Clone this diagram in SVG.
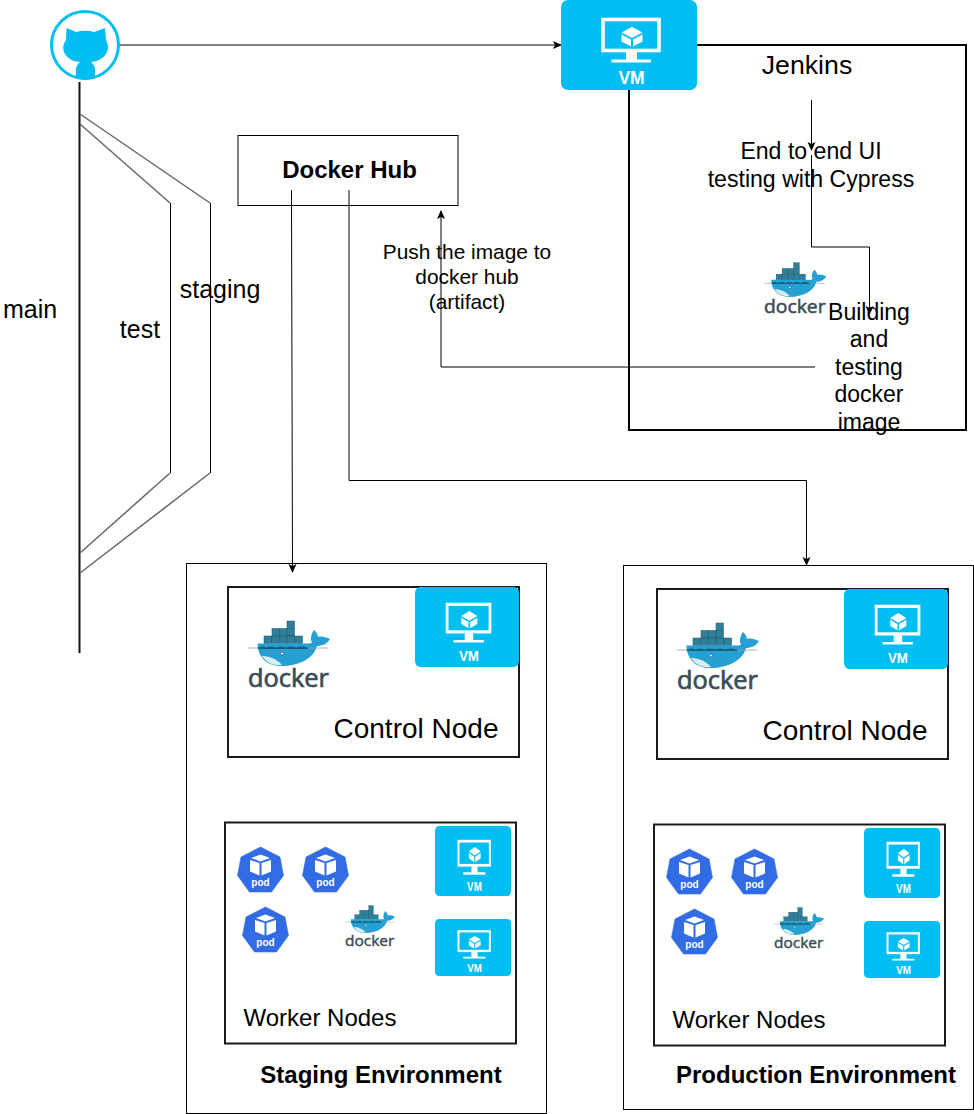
<svg xmlns="http://www.w3.org/2000/svg" width="974" height="1114" viewBox="0 0 974 1114">
<style>
text{font-family:"Liberation Sans",Arial,sans-serif;fill:#000;text-anchor:middle}
.b{font-weight:bold}
.box{fill:#fff;stroke:#000;stroke-width:1}
.inner{fill:#fff;stroke:#1a1a1a;stroke-width:2}
.c{fill:none;stroke:#000;stroke-width:1}
.g{fill:none;stroke:#666;stroke-width:1.5}
.k{fill:none;stroke:#000;stroke-width:2}
</style>
<defs>
<marker id="arrow" viewBox="0 0 9 9" refX="8" refY="4.500" markerWidth="9" markerHeight="9" markerUnits="userSpaceOnUse" orient="auto"><path d="M0,0.500L9,4.500L0,8.500L2,4.500Z" fill="#000"/></marker>
<g id="vm">
<rect width="136" height="90" rx="7" fill="#00bef2"/>
<rect x="42" y="19.500" width="56" height="31" fill="none" stroke="#fff" stroke-width="3.600"/>
<path d="M65,52H76V59.500H90V62.500H50.500V59.500H65Z" fill="#fff"/>
<path d="M71,27L81.500,32.500L71,38L60.500,32.500Z" fill="#fff"/>
<path d="M60.500,34.500L70,39.500V46.500L60.500,41.500ZM81.500,34.500L72,39.500V46.500L81.500,41.500Z" fill="#fff"/>
<text x="70.500" y="83.500" class="b" font-size="17.500" style="fill:#fff">VM</text>
</g>
<g id="docker">
<g fill="#2f7f98" stroke="#17576e" stroke-width=".5">
<rect x="39" y="1" width="7.500" height="7.500"/>
<rect x="24" y="8.500" width="7.500" height="7.500"/><rect x="31.500" y="8.500" width="7.500" height="7.500"/><rect x="39" y="8.500" width="7.500" height="7.500"/>
<rect x="16" y="16" width="7.700" height="7.500"/><rect x="23.700" y="16" width="7.700" height="7.500"/><rect x="31.400" y="16" width="7.700" height="7.500"/><rect x="39.100" y="16" width="7.700" height="7.500"/><rect x="46.800" y="16" width="7.700" height="7.500"/>
</g>
<path d="M9.500,23.500H58C60,23.500 62,24 64,22.500C62,19 63,14 66,10C68,12 70,14 70,17C73,16 78,17 82,19C79,24 74,26 69,26C66,38 52,46 33,46C18,46 9.500,36 9.500,23.500Z" fill="#26a0d2"/>
<path d="M9.500,27.500C14,26 16,26 18,27.500C22,26 25,26 28,27.500C32,26 35,26 38,27.500C42,26 45,26 48,27.500C52,26 55,26 60,27.500V29H10Z" fill="#17607c"/>
<path d="M14,36C20,36 28,38 34,45C24,46 18,42 14,36Z" fill="#d7ebf2"/>
<circle cx="34" cy="33.500" r="1.500" fill="#fff" stroke="#17576e" stroke-width=".7"/>
<path d="M0,28H10M60,28H80" stroke="#8aa3ad" stroke-width=".8" fill="none"/>
<text x="40.500" y="67" font-size="25" textLength="81" lengthAdjust="spacingAndGlyphs" style="font-family:'Open Sans','Liberation Sans',sans-serif;fill:#394d54;stroke:#394d54;stroke-width:.7">docker</text>
</g>
<g id="pod">
<path d="M0,-23L19.500,-13L23,5.500L11,22H-11L-23,5.500L-19.500,-13Z" fill="#326ce5" stroke="#326ce5" stroke-width=".6" stroke-linejoin="round"/>
<path d="M-9.500,-12L0,-15.500L9.500,-12L0,-8.500Z" fill="#fff"/>
<path d="M-10.500,-10L-1,-7V5.500L-10.500,1.500ZM10.500,-10L1,-7V5.500L10.500,1.500Z" fill="#fff"/>
<text y="15.500" class="b" font-size="10" style="fill:#fff">pod</text>
</g>
</defs>

<g id="connectors">
<path class="c" d="M120,45H561" marker-end="url(#arrow)"/>
<path class="k" style="stroke:#111" d="M79.500,82V653"/>
<path class="g" d="M80,114L210,203"/>
<path class="c" d="M210.500,203V473"/>
<path class="g" d="M210,473L80,573"/>
<path class="g" d="M80,124L170,203"/>
<path class="c" d="M170.500,203V473"/>
<path class="g" d="M170,473L80,553"/>
<path class="k" d="M697,45H966V430H629V90"/>
</g>

<g id="github">
<circle cx="85" cy="45" r="33.500" fill="#fff" stroke="#00bef2" stroke-width="3"/>
<path d="M66.500,28L76,32Q85,29.500 94,32L105,28L106,40Q110,48 106,54Q101,61 91,62Q95,65 95,70V78.500Q85,80.500 76,78.500V70Q76,65 80,62Q69,61 65,54Q61,47 66,40Z" fill="#00bef2"/>
</g>
<g id="jenkins-vm"><use href="#vm" x="561" y="0"/></g>
<g id="jenkins-label"><text x="807" y="74" font-size="26.700">Jenkins</text></g>
<g id="cypress"><text x="811" y="159" font-size="23.100">End to end UI</text><text x="811" y="187" font-size="23.100">testing with Cypress</text></g>
<g id="jenkins-docker"><use href="#docker" transform="translate(764,262) scale(.76)"/></g>
<g id="building"><text font-size="23" x="869" y="320">Building</text><text font-size="23" x="869" y="347">and</text><text font-size="23" x="869" y="375">testing</text><text font-size="23" x="869" y="402">docker</text><text font-size="23" x="869" y="430">image</text></g>
<g id="docker-hub"><rect class="box" x="238" y="135.500" width="220" height="70"/><text x="349.500" y="178" font-size="24" class="b">Docker Hub</text></g>
<g id="push-label"><text x="467" y="259" font-size="20.900">Push the image to</text><text x="467" y="284" font-size="20.900">docker hub</text><text x="467" y="309" font-size="20.900">(artifact)</text></g>
<g id="branch-labels"><text x="30" y="318" font-size="25">main</text><text x="140" y="338" font-size="25">test</text><text x="220" y="298" font-size="25">staging</text></g>

<g id="staging-env">
<rect class="box" x="186.500" y="563.500" width="360" height="550"/>
<text x="381" y="1083" font-size="24" class="b">Staging Environment</text>
</g>
<g id="staging-control">
<rect class="inner" x="228" y="587" width="291" height="170"/>
<use href="#docker" transform="translate(248,620)"/>
<use href="#vm" transform="translate(415,587) scale(.765,.889)"/>
<text x="416" y="738" font-size="28">Control Node</text>
</g>
<g id="staging-worker">
<rect class="inner" x="225" y="822.500" width="291" height="221"/>
<use href="#pod" x="260.500" y="870"/><use href="#pod" x="325.500" y="870"/><use href="#pod" x="265.500" y="930"/>
<use href="#docker" transform="translate(345,905) scale(.61)"/>
<use href="#vm" transform="translate(435,826) scale(.56,.778)"/>
<use href="#vm" transform="translate(435,919) scale(.56,.633)"/>
<text x="320" y="1026" font-size="24">Worker Nodes</text>
</g>
<g id="production-env">
<rect class="box" x="623.500" y="565.500" width="350" height="544"/>
<text x="816" y="1083" font-size="24" class="b">Production Environment</text>
</g>
<g id="production-control">
<rect class="inner" x="657" y="589" width="291" height="170"/>
<use href="#docker" transform="translate(677,622)"/>
<use href="#vm" transform="translate(844,589) scale(.765,.889)"/>
<text x="845" y="740" font-size="28">Control Node</text>
</g>
<g id="production-worker">
<rect class="inner" x="654" y="824.500" width="291" height="221"/>
<use href="#pod" x="689.500" y="872"/><use href="#pod" x="754.500" y="872"/><use href="#pod" x="694.500" y="932"/>
<use href="#docker" transform="translate(774,907) scale(.61)"/>
<use href="#vm" transform="translate(864,828) scale(.56,.778)"/>
<use href="#vm" transform="translate(864,921) scale(.56,.633)"/>
<text x="749" y="1028" font-size="24">Worker Nodes</text>
</g>

<g id="connectors-over">
<path class="c" d="M811.500,100V150" marker-end="url(#arrow)"/>
<path class="c" d="M811.500,155V247H869.500V314" marker-end="url(#arrow)"/>
<path class="c" d="M815,367H441V211" marker-end="url(#arrow)"/>
<path class="c" d="M291.500,190L292.500,572" marker-end="url(#arrow)"/>
<path class="c" d="M349,190V480.500H806.500V565" marker-end="url(#arrow)"/>
</g>
</svg>
